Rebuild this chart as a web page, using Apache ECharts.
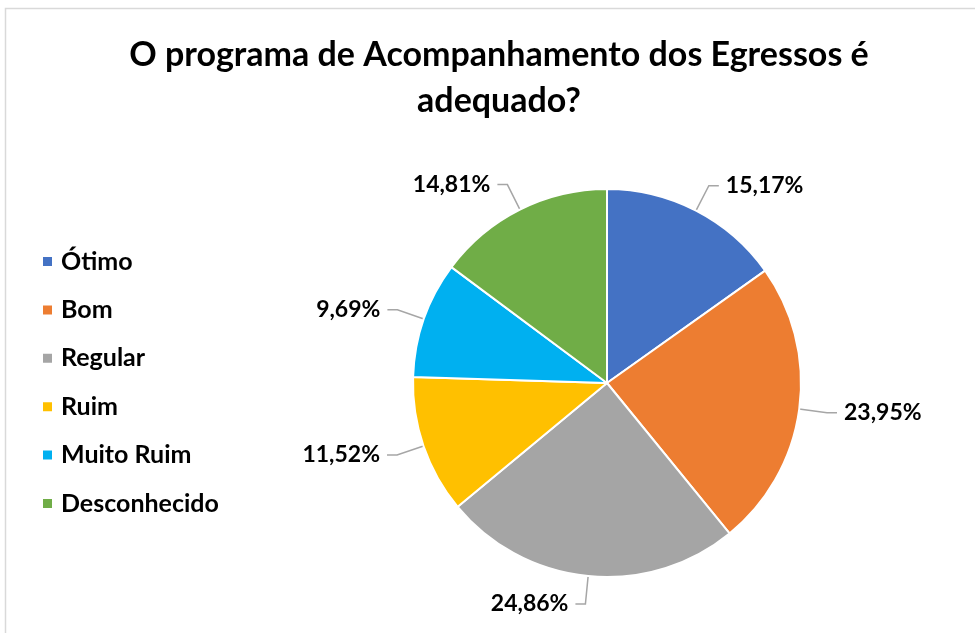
<!DOCTYPE html>
<html>
<head>
<meta charset="utf-8">
<script src="https://cdn.jsdelivr.net/npm/echarts@6/dist/echarts.min.js"></script>
<style>
  html, body { margin: 0; padding: 0; background: #ffffff; }
  #chart { width: 975px; height: 633px; }
</style>
</head>
<body>
<div id="chart"></div>
<script>
// categorias e valores (%)
const categories = ['Ótimo', 'Bom', 'Regular', 'Ruim', 'Muito Ruim', 'Desconhecido']
const values = [15.17, 23.95, 24.86, 11.52, 9.69, 14.81]
const colorList = ['#4472C4', '#ED7D31', '#A5A5A5', '#FFC000', '#00B0F0', '#70AD47']

const chart = echarts.init(document.getElementById('chart'))
chart.setOption({
  backgroundColor: '#ffffff',
  color: colorList,
  graphic: [{
    type: 'rect',
    shape: { x: 5.5, y: 8.5, width: 980, height: 640 },
    style: { fill: 'none', stroke: '#d9d9d9', lineWidth: 1.5 },
    silent: true
  }],
  title: {
    text: 'O programa de Acompanhamento dos Egressos é\nadequado?',
    left: 494,
    textAlign: 'center',
    top: 27,
    textStyle: {
      fontFamily: 'Lato',
      fontWeight: 'bold',
      fontSize: 34,
      lineHeight: 46,
      color: '#000000'
    }
  },
  legend: {
    orient: 'vertical',
    left: 36,
    top: 244,
    icon: 'rect',
    itemWidth: 11,
    itemHeight: 11,
    itemGap: 23.4,
    data: categories,
    textStyle: {
      fontFamily: 'Lato',
      fontWeight: 'bold',
      fontSize: 25,
      lineHeight: 24,
      color: '#000000',
      padding: [0, 0, 0, 3]
    }
  },
  series: [{
    type: 'pie',
    center: [607, 383],
    radius: 194,
    startAngle: 90,
    clockwise: true,
    avoidLabelOverlap: false,
    itemStyle: {
      borderColor: '#ffffff',
      borderWidth: 2
    },
    label: {
      show: true,
      position: 'outside',
      formatter: p => p.value.toFixed(2).replace('.', ',') + '%',
      fontFamily: 'Lato',
      fontWeight: 'bold',
      fontSize: 23,
      color: '#000000',
      padding: [0, 2]
    },
    labelLine: {
      show: true,
      length: 28,
      length2: 10,
      lineStyle: { color: '#a6a6a6', width: 1.5 }
    },
    emphasis: { disabled: true },
    data: categories.map((name, i) => ({ name, value: values[i] }))
  }]
})
</script>
</body>
</html>
